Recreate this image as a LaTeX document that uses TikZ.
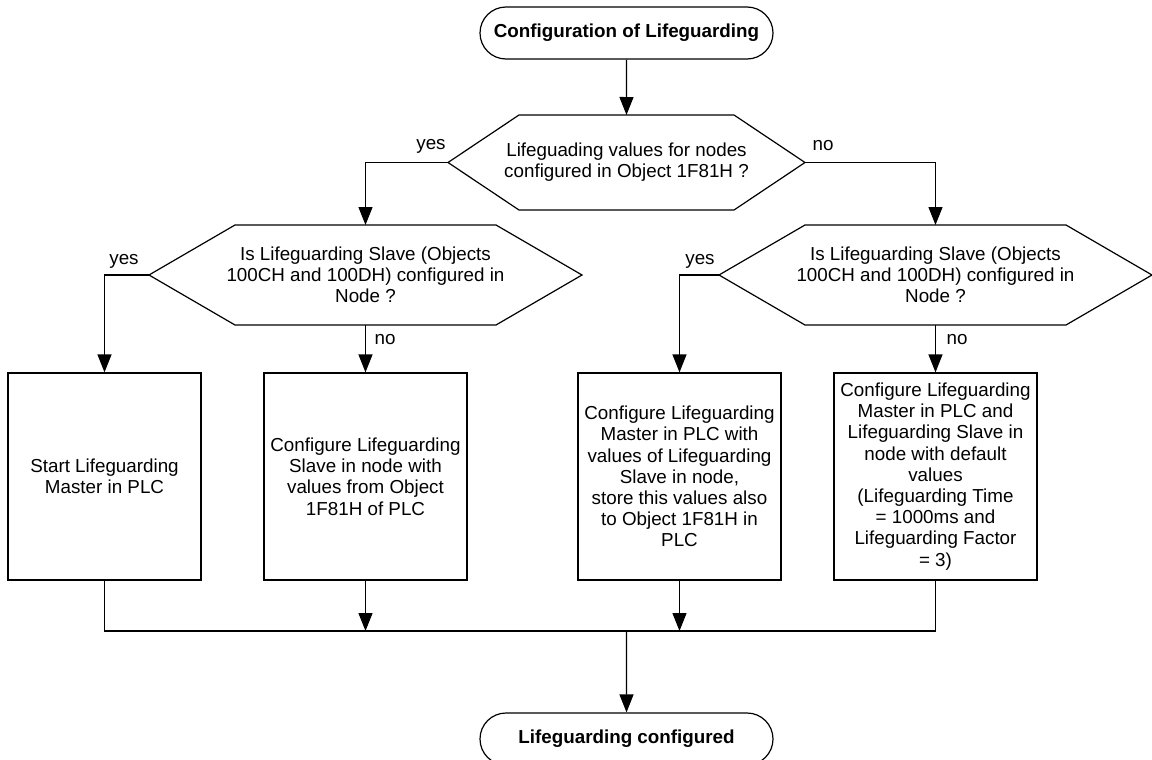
\documentclass[tikz,border=0pt]{standalone}
\usepackage{fontspec}
\setmainfont{Liberation Sans}
\usetikzlibrary{shapes.misc,arrows.meta}

\begin{document}
\begin{tikzpicture}[x=0.5pt,y=-0.5pt,line width=0.6pt,
		>={Triangle[length=9pt,width=7pt]},
		every node/.style={font=\fontsize{9.4}{10.6}\selectfont,inner sep=2pt},
		terminal/.style={draw,rounded rectangle,minimum width=150.5pt,minimum height=26pt,font=\fontsize{9.4}{10.6}\selectfont\bfseries},
		decision/.style={align=center,outer sep=0pt},
		process/.style={draw,align=center,minimum width=101.5pt,minimum height=103.5pt}]
			\useasboundingbox (0,0) rectangle (1152,760);
			
			\node[terminal] (t1) at (626.5,33) {Configuration of Lifeguarding};
			\node[decision,minimum width=178.5pt,minimum height=47.5pt] (q1) at (626.5,162.5) {Lifeguading values for nodes\\configured in Object 1F81H ?};
			\node[decision,minimum width=216.5pt,minimum height=50pt] (q2) at (365.5,275) {Is Lifeguarding Slave (Objects\\100CH and 100DH) configured in\\Node ?};
			\node[decision,minimum width=216.5pt,minimum height=50pt] (q3) at (935.5,275) {Is Lifeguarding Slave (Objects\\100CH and 100DH) configured in\\Node ?};
			
			\node[process,minimum width=96.5pt] (a) at (104.5,476.5) {Start Lifeguarding\\Master in PLC};
			\node[process] (b) at (365.5,476.5) {Configure Lifeguarding\\Slave in node with\\values from Object\\1F81H of PLC};
			\node[process] (c) at (679.5,476.5) {Configure Lifeguarding\\Master in PLC with\\values of Lifeguarding\\Slave in node,\\store this values also\\to Object 1F81H in\\PLC};
			\node[process] (d) at (935.5,476.5) {Configure Lifeguarding\\Master in PLC and\\Lifeguarding Slave in\\node with default\\values\\(Lifeguarding Time\\= 1000ms and\\Lifeguarding Factor\\= 3)};
			
			\node[terminal] (t2) at (626.5,739) {Lifeguarding configured};
			\coordinate (j) at (626.5,631);
			
			\node (y1) at (431,146) {yes};
			\node (n1) at (823,146) {no};
			\node (y2) at (124,261) {yes};
			\node (n2) at (385,340) {no};
			\node (y3) at (700,261) {yes};
			\node (n3) at (957,340) {no};
			
			\foreach \q/\d in {q1/35.5pt,q2/43pt,q3/43pt}
				\draw (\q.west) -- ([xshift=\d]\q.north west) -- ([xshift=-\d]\q.north east) -- (\q.east) -- ([xshift=-\d]\q.south east) -- ([xshift=\d]\q.south west) -- cycle;
			
			\draw[->] (t1) -- (q1);
			\draw[->] (q1.west) -| (q2);
			\draw[->] (q1.east) -| (q3);
			\draw[->] (q2.west) -| (a);
			\draw[->] (q2) -- (b);
			\draw[->] (q3.west) -| (c);
			\draw[->] (q3) -- (d);
			\draw (a) |- (j) -| (d);
			\draw[->] (b) -- (b |- j);
			\draw[->] (c) -- (c |- j);
			\draw[->] (j) -- (t2);
		\end{tikzpicture}
\end{document}
